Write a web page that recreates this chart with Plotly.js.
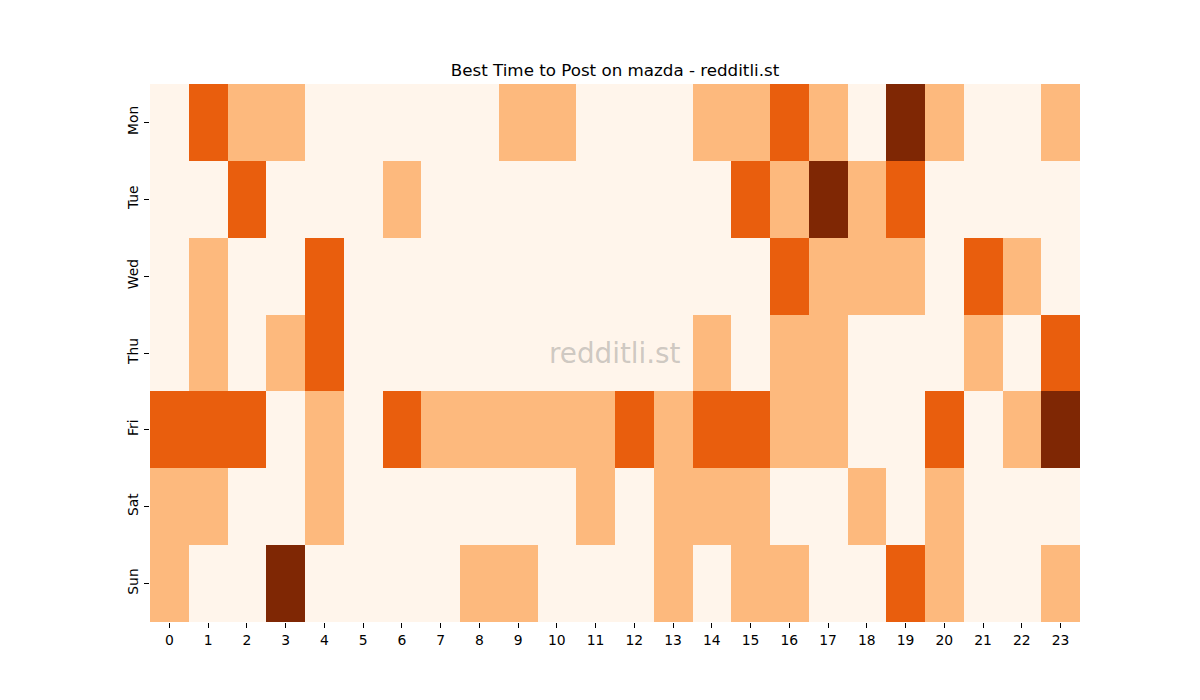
<!DOCTYPE html>
<html>
<head>
<meta charset="utf-8">
<script src="https://cdn.plot.ly/plotly-3.0.1.min.js"></script>
<style>html,body{margin:0;padding:0;background:#fff;}</style>
</head>
<body>
<div id="chart" style="width:1200px;height:700px;"></div>
<script>
const hours = ["0","1","2","3","4","5","6","7","8","9","10","11","12","13","14","15","16","17","18","19","20","21","22","23"];
const days = ["Mon","Tue","Wed","Thu","Fri","Sat","Sun"];
const mon = [0,2,1,1,0,0,0,0,0,1,1,0,0,0,1,1,2,1,0,3,1,0,0,1];
const tue = [0,0,2,0,0,0,1,0,0,0,0,0,0,0,0,2,1,3,1,2,0,0,0,0];
const wed = [0,1,0,0,2,0,0,0,0,0,0,0,0,0,0,0,2,1,1,1,0,2,1,0];
const thu = [0,1,0,1,2,0,0,0,0,0,0,0,0,0,1,0,1,1,0,0,0,1,0,2];
const fri = [2,2,2,0,1,0,2,1,1,1,1,1,2,1,2,2,1,1,0,0,2,0,1,3];
const sat = [1,1,0,0,1,0,0,0,0,0,0,1,0,1,1,1,0,0,1,0,1,0,0,0];
const sun = [1,0,0,3,0,0,0,0,1,1,0,0,0,1,0,1,1,0,0,2,1,0,0,1];
const z = [mon,tue,wed,thu,fri,sat,sun];

const trace = {
  type: 'heatmap',
  x: hours,
  y: days,
  z: z,
  zmin: 0, zmax: 3,
  colorscale: [[0,'#fff5eb'],[0.3333,'#fdb97d'],[0.6667,'#e95e0d'],[1,'#7f2704']],
  showscale: false,
  xgap: 0, ygap: 0,
  hoverinfo: 'x+y+z'
};

const layout = {
  width: 1200, height: 700,
  margin: {l:150, r:120, t:84, b:78},
  paper_bgcolor: '#ffffff',
  plot_bgcolor: '#ffffff',
  font: {family: 'DejaVu Sans, sans-serif', size: 13.9, color: '#000'},
  title: {text: 'Best Time to Post on mazda - redditli.st', font: {size: 16.7, color:'#000'}, x: 0.5, xanchor: 'center', xref: 'paper', y: 1-70/700, yref: 'container', yanchor: 'middle'},
  xaxis: {type: 'category', showgrid: false, zeroline: false, ticks: 'outside', ticklen: 5, tickcolor: '#000', showline: false, tickfont:{size:13.9}},
  yaxis: {type: 'category', autorange: 'reversed', showgrid: false, zeroline: false, ticks: 'outside', ticklen: 5, tickcolor: '#000', tickangle: -90, showline: false, tickfont:{size:13.9}},
  annotations: [{
    text: 'redditli.st', xref: 'paper', yref: 'paper', x: 0.5, y: 0.5,
    showarrow: false, font: {size: 27.8, color: 'rgba(128,128,128,0.4)', family: 'DejaVu Sans, sans-serif'}
  }]
};

Plotly.newPlot('chart', [trace], layout, {displayModeBar: false, staticPlot: true});
</script>
</body>
</html>
